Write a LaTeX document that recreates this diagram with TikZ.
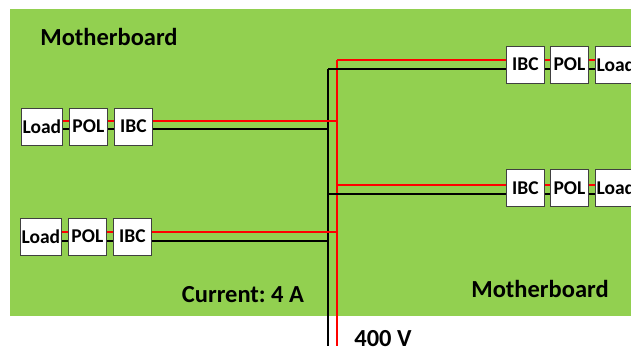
\documentclass[tikz,border=0pt]{standalone}
\usepackage{fontspec}
\setmainfont{Carlito}
\frenchspacing
\begin{document}
\begin{tikzpicture}[x=1pt,y=-1pt,
  box/.style={draw=black!75, line width=0.8pt, fill=white, minimum height=37pt, inner sep=0pt, font=\bfseries\fontsize{19.5}{19.5}\selectfont, anchor=west},
  bw/.style={draw=black, line width=2.2pt},
  rw/.style={draw=red, line width=1.8pt},
  lbl/.style={font=\bfseries\fontsize{24.5}{24.5}\selectfont, inner sep=0pt}]
\useasboundingbox (0,0) rectangle (631,348);
\clip (0,0) rectangle (631,348);
\fill[fill={rgb,255:red,146;green,208;blue,80}] (10,9) rectangle (640,316);
% bus
\coordinate (rtop) at (337,60);
\coordinate (rbot) at (337,346);
\coordinate (btop) at (328,69);
\coordinate (bbot) at (328,346);
\draw[rw] (rtop) -- (rbot);
\draw[bw] (btop) -- (bbot);
% left row 1
\node[box, minimum width=41pt] (aload) at (21,126.5) {Load};
\node[box, minimum width=38pt] (apol) at (69,126.5) {POL};
\node[box, minimum width=38pt] (aibc) at (114,126.5) {IBC};
% left row 2
\node[box, minimum width=41pt] (bload) at (20,236.5) {Load};
\node[box, minimum width=38pt] (bpol) at (68,236.5) {POL};
\node[box, minimum width=38pt] (bibc) at (113,236.5) {IBC};
% right row 1
\node[box, minimum width=38pt] (cibc) at (506,64.5) {IBC};
\node[box, minimum width=38pt] (cpol) at (550,64.5) {POL};
\node[box, minimum width=41pt] (cload) at (595,64.5) {Load};
% right row 2
\node[box, minimum width=38pt] (dibc) at (506,188) {IBC};
\node[box, minimum width=38pt] (dpol) at (550,188) {POL};
\node[box, minimum width=41pt] (dload) at (595,188) {Load};
% left row 1 wires
\draw[rw] (aload.east |- 0,121) -- (apol.west |- 0,121);
\draw[bw] (aload.east |- 0,129) -- (apol.west |- 0,129);
\draw[rw] (apol.east |- 0,121) -- (aibc.west |- 0,121);
\draw[bw] (apol.east |- 0,129) -- (aibc.west |- 0,129);
\draw[rw] (aibc.east |- 0,121) -- (rtop |- 0,121);
\draw[bw] (aibc.east |- 0,129) -- (btop |- 0,129);
% left row 2 wires
\draw[rw] (bload.east |- 0,232) -- (bpol.west |- 0,232);
\draw[bw] (bload.east |- 0,241) -- (bpol.west |- 0,241);
\draw[rw] (bpol.east |- 0,232) -- (bibc.west |- 0,232);
\draw[bw] (bpol.east |- 0,241) -- (bibc.west |- 0,241);
\draw[rw] (bibc.east |- 0,232) -- (rtop |- 0,232);
\draw[bw] (bibc.east |- 0,241) -- (btop |- 0,241);
% right row 1 wires
\draw[rw] (rtop) -- (cibc.west |- rtop);
\draw[bw] (btop) -- (cibc.west |- btop);
\draw[rw] (cibc.east |- 0,60) -- (cpol.west |- 0,60);
\draw[bw] (cibc.east |- 0,69) -- (cpol.west |- 0,69);
\draw[rw] (cpol.east |- 0,60) -- (cload.west |- 0,60);
\draw[bw] (cpol.east |- 0,69) -- (cload.west |- 0,69);
% right row 2 wires
\draw[rw] (rtop |- 0,185) -- (dibc.west |- 0,185);
\draw[bw] (btop |- 0,194) -- (dibc.west |- 0,194);
\draw[rw] (dibc.east |- 0,185) -- (dpol.west |- 0,185);
\draw[bw] (dibc.east |- 0,194) -- (dpol.west |- 0,194);
\draw[rw] (dpol.east |- 0,185) -- (dload.west |- 0,185);
\draw[bw] (dpol.east |- 0,194) -- (dload.west |- 0,194);
% labels
\node[lbl] (mb1) at (109,37) {Motherboard};
\node[lbl] (mb2) at (540,289) {Motherboard};
\node[lbl] (cur) at (243,295) {Current: 4 A};
\node[lbl] (volt) at (383,339) {400 V};
\end{tikzpicture}
\end{document}
